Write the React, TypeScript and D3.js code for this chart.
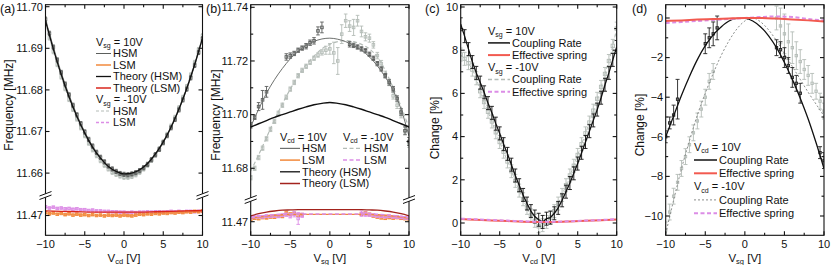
import React, { useEffect, useRef } from "react";
import * as d3 from "d3";

// ---------- shared x grids (V) ----------
const X_HALF = [-10, -9.5, -9, -8.5, -8, -7.5, -7, -6.5, -6, -5.5, -5, -4.5, -4, -3.5, -3, -2.5, -2, -1.5, -1, -0.5, 0, 0.5, 1, 1.5, 2, 2.5, 3, 3.5, 4, 4.5, 5, 5.5, 6, 6.5, 7, 7.5, 8, 8.5, 9, 9.5, 10];
const X_INT = [-10, -9, -8, -7, -6, -5, -4, -3, -2, -1, 0, 1, 2, 3, 4, 5, 6, 7, 8, 9, 10];
const X_EVEN = [-10, -8, -6, -4, -2, 0, 2, 4, 6, 8, 10];
const X_MAJOR = [-10, -5, 0, 5, 10];
const X_MINOR = [-7.5, -2.5, 2.5, 7.5];

// ---------- (a) frequency vs V_cd ----------
const aHsmPos = [11.6970, 11.6936, 11.6903, 11.6872, 11.6842, 11.6814, 11.6788, 11.6763, 11.6740, 11.6719, 11.6699, 11.6681, 11.6665, 11.6650, 11.6638, 11.6627, 11.6617, 11.6610, 11.6604, 11.6599, 11.6597, 11.6596, 11.6598, 11.6601, 11.6606, 11.6613, 11.6621, 11.6632, 11.6644, 11.6657, 11.6673, 11.6690, 11.6709, 11.6729, 11.6752, 11.6776, 11.6802, 11.6829, 11.6859, 11.6890, 11.6923];
const aHsmNeg = [11.6960, 11.6925, 11.6892, 11.6861, 11.6831, 11.6803, 11.6777, 11.6753, 11.6730, 11.6709, 11.6690, 11.6672, 11.6656, 11.6642, 11.6630, 11.6619, 11.6610, 11.6602, 11.6597, 11.6593, 11.6590, 11.6590, 11.6592, 11.6596, 11.6602, 11.6610, 11.6619, 11.6631, 11.6644, 11.6658, 11.6675, 11.6693, 11.6713, 11.6734, 11.6757, 11.6782, 11.6808, 11.6836, 11.6866, 11.6897, 11.6930];
const aTheoryHsm = [11.6966, 11.6898, 11.6837, 11.6783, 11.6736, 11.6696, 11.6662, 11.6636, 11.6616, 11.6604, 11.6598, 11.6600, 11.6608, 11.6623, 11.6646, 11.6675, 11.6711, 11.6754, 11.6804, 11.6861, 11.6925];
const aLsmPos = [11.4707, 11.4704, 11.4706, 11.4703, 11.4705, 11.4702, 11.4704, 11.4701, 11.4703, 11.4701, 11.4702, 11.4700, 11.4702, 11.4700, 11.4701, 11.4699, 11.4701, 11.4700, 11.4701, 11.4699, 11.4701, 11.4700, 11.4699, 11.4701, 11.4703, 11.4702, 11.4704, 11.4703, 11.4705, 11.4704, 11.4706, 11.4705, 11.4707, 11.4706, 11.4708, 11.4707, 11.4709, 11.4708, 11.4710, 11.4709, 11.4711];
const aLsmNeg = [11.4721, 11.4718, 11.4720, 11.4717, 11.4718, 11.4716, 11.4717, 11.4715, 11.4716, 11.4714, 11.4714, 11.4712, 11.4713, 11.4711, 11.4711, 11.4710, 11.4710, 11.4709, 11.4709, 11.4708, 11.4708, 11.4707, 11.4708, 11.4707, 11.4708, 11.4708, 11.4709, 11.4708, 11.4709, 11.4709, 11.4708, 11.4709, 11.4710, 11.4709, 11.4710, 11.4709, 11.4710, 11.4710, 11.4709, 11.4710, 11.4710];
const aTheoryLsm = [11.4711, 11.4710, 11.4709, 11.4708, 11.4708, 11.4708, 11.4708, 11.4709, 11.4710, 11.4711, 11.4712];

// ---------- (b) frequency vs V_sg ----------
const bHsmPosX = [-10, -9.5, -9, -8.5, -8, -5.5, -5, -4.5, -4, -3.5, -3, -2.5, -2, -1.5, -1, 2.5, 3, 3.5, 4, 4.5, 5, 5.5, 6, 6.5, 7, 7.5, 8, 8.5, 9, 9.5, 10];
const bHsmPos = [11.6960, 11.6990, 11.7030, 11.7055, 11.7085, 11.7215, 11.7220, 11.7228, 11.7240, 11.7248, 11.7255, 11.7268, 11.7275, 11.7312, 11.7325, 11.7262, 11.7258, 11.7252, 11.7245, 11.7238, 11.7225, 11.7210, 11.7190, 11.7170, 11.7145, 11.7120, 11.7095, 11.7060, 11.7010, 11.6940, 11.6900];
const bHsmPosErr = [0.0010, 0.0008, 0.0015, 0.0035, 0.0020, 0.0012, 0.0010, 0.0008, 0.0008, 0.0008, 0.0010, 0.0010, 0.0012, 0.0015, 0.0020, 0.0010, 0.0008, 0.0008, 0.0008, 0.0008, 0.0008, 0.0008, 0.0008, 0.0008, 0.0008, 0.0010, 0.0010, 0.0010, 0.0012, 0.0015, 0.0015];
const bHsmNeg = [11.6765, 11.6800, 11.6840, 11.6875, 11.6910, 11.6945, 11.6975, 11.7005, 11.7035, 11.7065, 11.7095, 11.7120, 11.7145, 11.7165, 11.7180, 11.7195, 11.7210, 11.7222, 11.7232, 11.7240, 11.7245, 11.7230, 11.7200, 11.7300, 11.7350, 11.7330, 11.7325, 11.7350, 11.7310, 11.7290, 11.7285, 11.7260, 11.7220, 11.7190, 11.7150, 11.7120, 11.7070, 11.7035, 11.7000, 11.6940, 11.6890];
const bHsmNegErr = [0.0008, 0.0008, 0.0008, 0.0008, 0.0008, 0.0008, 0.0008, 0.0008, 0.0008, 0.0008, 0.0008, 0.0008, 0.0008, 0.0008, 0.0008, 0.0008, 0.0008, 0.0008, 0.0010, 0.0015, 0.0020, 0.0040, 0.0050, 0.0035, 0.0025, 0.0020, 0.0030, 0.0020, 0.0020, 0.0015, 0.0015, 0.0012, 0.0012, 0.0012, 0.0012, 0.0012, 0.0012, 0.0012, 0.0012, 0.0012, 0.0012];
const bFitPos = [11.6955, 11.7020, 11.7080, 11.7130, 11.7172, 11.7208, 11.7236, 11.7258, 11.7273, 11.7282, 11.7285, 11.7281, 11.7272, 11.7258, 11.7240, 11.7215, 11.7182, 11.7140, 11.7090, 11.7020, 11.6920];
const bFitNeg = [11.6790, 11.6850, 11.6915, 11.6980, 11.7040, 11.7095, 11.7145, 11.7185, 11.7218, 11.7245, 11.7262, 11.7272, 11.7276, 11.7272, 11.7262, 11.7245, 11.7215, 11.7165, 11.7100, 11.7030, 11.6950];
const bTheoryHsm = [11.6954, 11.6966, 11.6978, 11.6990, 11.7000, 11.7010, 11.7020, 11.7029, 11.7037, 11.7042, 11.7045, 11.7042, 11.7037, 11.7029, 11.7020, 11.7010, 11.7000, 11.6990, 11.6978, 11.6966, 11.6954];
const bTheoryLsm = [11.4722, 11.4730, 11.4736, 11.4740, 11.4743, 11.4744, 11.4745, 11.4745, 11.4745, 11.4745, 11.4745, 11.4745, 11.4745, 11.4745, 11.4745, 11.4744, 11.4743, 11.4740, 11.4736, 11.4730, 11.4722];
const bFitLsmPos = [11.4712, 11.4717, 11.4721, 11.4724, 11.4726, 11.4727, 11.4727, 11.4727, 11.4727, 11.4727, 11.4727, 11.4727, 11.4727, 11.4727, 11.4727, 11.4727, 11.4726, 11.4724, 11.4721, 11.4717, 11.4712];
const bFitLsmNeg = [11.4714, 11.4719, 11.4723, 11.4726, 11.4728, 11.4729, 11.4729, 11.4729, 11.4729, 11.4729, 11.4729, 11.4729, 11.4729, 11.4729, 11.4729, 11.4729, 11.4728, 11.4726, 11.4723, 11.4719, 11.4714];
const bLsmX = [-10, -9.5, -9, -8.5, -8, -7.5, -7, -6.5, -6, -5.5, -5, -4.5, -4, -3.5, 4, 4.5, 5, 5.5, 6, 6.5, 7, 7.5, 8, 8.5, 9, 9.5, 10];
const bLsmPos = [11.4710, 11.4713, 11.4712, 11.4716, 11.4715, 11.4718, 11.4717, 11.4722, 11.4720, 11.4732, 11.4728, 11.4730, 11.4724, 11.4726, 11.4728, 11.4732, 11.4727, 11.4722, 11.4718, 11.4715, 11.4713, 11.4716, 11.4714, 11.4716, 11.4713, 11.4712, 11.4711];
const bLsmNeg = [11.4715, 11.4717, 11.4719, 11.4718, 11.4721, 11.4720, 11.4722, 11.4720, 11.4724, 11.4726, 11.4722, 11.4728, 11.4712, 11.4724, 11.4730, 11.4728, 11.4726, 11.4724, 11.4722, 11.4720, 11.4719, 11.4720, 11.4718, 11.4717, 11.4716, 11.4714, 11.4713];
const bLsmNegErr = [0.0004, 0.0004, 0.0004, 0.0004, 0.0004, 0.0004, 0.0004, 0.0005, 0.0005, 0.0006, 0.0008, 0.0010, 0.0022, 0.0008, 0.0010, 0.0008, 0.0006, 0.0005, 0.0005, 0.0004, 0.0004, 0.0004, 0.0004, 0.0004, 0.0004, 0.0004, 0.0004];

// ---------- (c) change vs V_cd ----------
const cCoupPos = [9.20, 8.65, 8.05, 7.45, 6.95, 6.50, 6.05, 5.55, 5.10, 4.60, 4.15, 3.65, 3.20, 2.70, 2.20, 1.75, 1.30, 0.90, 0.55, 0.30, 0.15, 0.05, 0.20, 0.25, 0.45, 0.70, 1.05, 1.45, 1.85, 2.30, 2.75, 3.25, 3.75, 4.25, 4.75, 5.25, 5.80, 6.40, 6.95, 7.55, 8.15];
const cCoupNeg = [7.8, 7.6, 7.4, 7.1, 6.7, 6.1, 5.6, 5.15, 4.7, 4.2, 3.75, 3.3, 2.85, 2.4, 1.95, 1.5, 1.1, 0.7, 0.35, 0.1, -0.15, -0.1, 0.05, 0.25, 0.55, 0.9, 1.3, 1.75, 2.2, 2.65, 3.15, 3.65, 4.15, 4.65, 5.2, 5.75, 6.3, 6.9, 7.5, 8.2, 9.0];
const cSpringPos = [0.18, 0.15, 0.12, 0.09, 0.06, 0.05, 0.05, 0.07, 0.10, 0.13, 0.16];
const cSpringNeg = [0.20, 0.17, 0.14, 0.11, 0.08, 0.06, 0.06, 0.08, 0.11, 0.14, 0.18];

// ---------- (d) change vs V_sg ----------
const dFitPos = [-6.0, -4.95, -3.9, -2.95, -2.1, -1.4, -0.85, -0.45, -0.15, -0.02, -0.02, -0.15, -0.45, -0.9, -1.5, -2.25, -3.1, -4.05, -5.1, -6.3, -7.6];
const dFitNeg = [-10.9, -9.2, -7.6, -6.2, -4.9, -3.8, -2.8, -1.9, -1.15, -0.55, -0.15, 0.0, -0.2, -0.6, -1.15, -1.8, -2.45, -3.1, -3.75, -4.35, -4.95];
const dCoupPosX = [-10, -9.5, -9, -8.5, -5, -4.5, -4, -3.5, 4, 4.5, 5, 5.5, 6, 6.5, 7, 9.5, 10];
const dCoupPos = [-6.0, -5.3, -4.9, -4.1, -1.3, -1.0, -0.8, -0.5, -1.5, -1.6, -2.0, -2.4, -3.0, -3.3, -3.8, -6.8, -7.2];
const dCoupPosErr = [0.3, 0.3, 0.5, 1.0, 0.5, 0.5, 0.6, 0.6, 0.4, 0.4, 0.5, 0.4, 0.5, 0.4, 0.5, 0.3, 0.4];
const dCoupNegX = [-10, -9.5, -9, -8.5, -8, -7.5, -7, -6.5, -6, -5.5, -5, -4.5, -4, 4, 4.5, 5, 5.5, 6, 6.5, 7, 7.5, 8, 8.5, 9, 9.5, 10];
const dCoupNeg = [-10.7, -9.8, -9.0, -8.3, -7.6, -7.0, -6.4, -5.8, -5.2, -4.6, -4.0, -3.2, -2.7, 0.0, -0.4, -0.8, -1.2, -1.5, -1.9, -2.2, -2.6, -2.9, -3.3, -3.7, -4.2, -4.7];
const dCoupNegErr = [0.4, 0.4, 0.4, 0.4, 0.4, 0.4, 0.4, 0.4, 0.4, 0.4, 0.4, 0.4, 0.4, 0.6, 0.9, 1.0, 0.9, 0.8, 0.7, 0.6, 0.5, 0.5, 0.5, 0.4, 0.4, 0.4];
const dSpringPos = [-0.15, -0.12, -0.08, -0.05, -0.02, 0.0, 0.0, -0.03, -0.07, -0.12, -0.18];
const dSpringNeg = [-0.25, -0.2, -0.15, -0.1, -0.05, 0.0, 0.05, 0.08, 0.05, -0.05, -0.12];

// ---------- colours ----------
const DARK = "#5b5e5c";
const LIGHT = "#b4bcb7";
const ORANGE = "#f28a3c";
const PINK = "#dc8de6";
const RED = "#d9261c";
const DKRED = "#a3231d";
const BLACK = "#111";
const SPRING = "#f25a50";
const FONT = "'Liberation Sans', Arial, sans-serif";

type Seg = { d: [number, number]; r: [number, number]; clip: [number, number]; major: number[]; minor: number[]; fmt: (v: number) => string };
type Ser = { xs: number[]; ys: number[]; seg?: number; err?: number | number[]; mark?: boolean; ms?: number; color: string; line?: boolean; dash?: string; lw?: number; smooth?: boolean; cap?: number; mfill?: string };
type Row = { head?: [string, string]; text?: string; color?: string; dash?: string; lw?: number };
type Legend = { x: number; y: number; step: number; len: number; rows: Row[] };
type Panel = { id: string; label: string; labelX: number; x0: number; x1: number; top: number; bottom: number; segs: Seg[]; breakY?: number; yTitle: string; yTitleX: number; yTitleY: number; xSub: string; series: Ser[]; legends: Legend[] };

const f2 = d3.format(".2f");
const f0 = d3.format("d");

const panels: Panel[] = [
  {
    id: "a", label: "(a)", labelX: 0, x0: 45.5, x1: 202.5, top: 4.7, bottom: 235.3,
    segs: [
      { d: [11.66, 11.70], r: [173.1, 6.7], clip: [4.7, 194.5], major: [11.66, 11.67, 11.68, 11.69, 11.70], minor: [], fmt: f2 },
      { d: [11.47, 11.48], r: [215.5, 173.9], clip: [196.5, 235.3], major: [11.47], minor: [], fmt: f2 },
    ],
    breakY: 195.5,
    yTitle: "Frequency [MHz]", yTitleX: 12.5, yTitleY: 105, xSub: "cd",
    series: [
      { xs: X_HALF, ys: aHsmNeg, err: 0.0005, mark: true, ms: 2.6, color: LIGHT, line: true, dash: "3,2", lw: 0.8 },
      { xs: X_HALF, ys: aHsmPos, err: 0.0005, mark: true, ms: 2.6, color: DARK, line: true, lw: 0.8 },
      { xs: X_INT, ys: aTheoryHsm, color: BLACK, line: true, lw: 1.3, smooth: true },
      { xs: X_HALF, ys: aLsmNeg, seg: 1, err: 0.0002, mark: true, ms: 2.6, color: PINK, line: true, dash: "3,2", lw: 0.8 },
      { xs: X_HALF, ys: aLsmPos, seg: 1, err: 0.0002, mark: true, ms: 2.6, color: ORANGE, line: true, lw: 0.8 },
      { xs: X_EVEN, ys: aTheoryLsm, seg: 1, color: RED, line: true, lw: 1.4, smooth: true },
    ],
    legends: [
      {
        x: 96, y: 42, step: 11.5, len: 15, rows: [
          { head: ["sg", " = 10V"] },
          { text: "HSM", color: DARK, lw: 1 },
          { text: "LSM", color: ORANGE, lw: 1.5 },
          { text: "Theory (HSM)", color: BLACK, lw: 1.3 },
          { text: "Theory (LSM)", color: RED, lw: 1.5 },
          { head: ["sg", " = -10V"] },
          { text: "HSM", color: LIGHT, lw: 1, dash: "3,2" },
          { text: "LSM", color: PINK, lw: 1.5, dash: "3,2" },
        ],
      },
    ],
  },
  {
    id: "b", label: "(b)", labelX: 206, x0: 250.7, x1: 409, top: 4.7, bottom: 235.3,
    segs: [
      { d: [11.68, 11.74], r: [168.3, 7.3], clip: [4.7, 198.5], major: [11.68, 11.70, 11.72, 11.74], minor: [11.69, 11.71, 11.73], fmt: f2 },
      { d: [11.47, 11.48], r: [221.7, 194.9], clip: [200.5, 235.3], major: [11.47], minor: [], fmt: f2 },
    ],
    breakY: 199.5,
    yTitle: "Frequency [MHz]", yTitleX: 219.5, yTitleY: 115, xSub: "sg",
    series: [
      { xs: X_HALF, ys: bHsmNeg, err: bHsmNegErr, mark: true, ms: 2.6, color: LIGHT, cap: 1.8 },
      { xs: X_INT, ys: bFitNeg, color: LIGHT, line: true, dash: "4,2.5", lw: 1.2, smooth: true },
      { xs: bHsmPosX, ys: bHsmPos, err: bHsmPosErr, mark: true, ms: 2.6, color: DARK, cap: 1.8 },
      { xs: X_INT, ys: bFitPos, color: "#6d706e", line: true, lw: 1, smooth: true },
      { xs: X_INT, ys: bTheoryHsm, color: BLACK, line: true, lw: 1.4, smooth: true },
      { xs: bLsmX, ys: bLsmPos, seg: 1, err: 0.0005, mark: true, ms: 2.6, color: ORANGE, cap: 1.8 },
      { xs: bLsmX, ys: bLsmNeg, seg: 1, err: bLsmNegErr, mark: true, ms: 2.6, color: PINK, cap: 1.8 },
      { xs: X_INT, ys: bFitLsmPos, seg: 1, color: ORANGE, line: true, lw: 1.3, smooth: true },
      { xs: X_INT, ys: bFitLsmNeg, seg: 1, color: PINK, line: true, lw: 1.5, dash: "4,2.5", smooth: true },
      { xs: X_INT, ys: bTheoryLsm, seg: 1, color: DKRED, line: true, lw: 1.3, smooth: true },
    ],
    legends: [
      {
        x: 280, y: 136.7, step: 11.7, len: 20, rows: [
          { head: ["cd", " = 10V"] },
          { text: "HSM", color: "#6d706e", lw: 1.2 },
          { text: "LSM", color: ORANGE, lw: 1.5 },
          { text: "Theory (HSM)", color: BLACK, lw: 1.3 },
          { text: "Theory (LSM)", color: DKRED, lw: 1.5 },
        ],
      },
      {
        x: 343, y: 136.7, step: 11.7, len: 19, rows: [
          { head: ["cd", " = -10V"] },
          { text: "HSM", color: LIGHT, lw: 1.2, dash: "4,2.5" },
          { text: "LSM", color: PINK, lw: 1.5, dash: "4,2.5" },
        ],
      },
    ],
  },
  {
    id: "c", label: "(c)", labelX: 425, x0: 460.7, x1: 616.7, top: 4.7, bottom: 235.3,
    segs: [
      { d: [0, 10], r: [223, 7], clip: [4.7, 235.3], major: [0, 2, 4, 6, 8, 10], minor: [1, 3, 5, 7, 9], fmt: f0 },
    ],
    yTitle: "Change [%]", yTitleX: 439, yTitleY: 128, xSub: "cd",
    series: [
      { xs: X_HALF, ys: cCoupNeg, err: 0.3, mark: true, ms: 3.4, color: LIGHT, line: true, dash: "4,2.5", lw: 1, cap: 2 },
      { xs: X_HALF, ys: cCoupPos, err: 0.3, color: BLACK, line: true, lw: 1.3, cap: 2 },
      { xs: X_EVEN, ys: cSpringPos, color: SPRING, line: true, lw: 2, smooth: true },
      { xs: X_EVEN, ys: cSpringNeg, color: PINK, line: true, lw: 2, dash: "4,2.5", smooth: true },
    ],
    legends: [
      {
        x: 488, y: 30.7, step: 12.2, len: 22, rows: [
          { head: ["sg", " = 10V"] },
          { text: "Coupling Rate", color: BLACK, lw: 1.5 },
          { text: "Effective spring", color: SPRING, lw: 2 },
          { head: ["sg", " = -10V"] },
          { text: "Coupling Rate", color: LIGHT, lw: 1.5, dash: "4,2.5" },
          { text: "Effective spring", color: PINK, lw: 2, dash: "4,2.5" },
        ],
      },
    ],
  },
  {
    id: "d", label: "(d)", labelX: 632, x0: 665.7, x1: 824, top: 4.7, bottom: 235.3,
    segs: [
      { d: [-10, 0], r: [216, 18], clip: [4.7, 235.3], major: [0, -2, -4, -6, -8, -10], minor: [-1, -3, -5, -7, -9], fmt: f0 },
    ],
    yTitle: "Change [%]", yTitleX: 644, yTitleY: 125, xSub: "sg",
    series: [
      { xs: dCoupNegX, ys: dCoupNeg, err: dCoupNegErr, mark: true, ms: 2.4, color: LIGHT, cap: 2 },
      { xs: X_INT, ys: dFitNeg, color: "#8a8d8b", line: true, lw: 1, dash: "2,2", smooth: true },
      { xs: dCoupPosX, ys: dCoupPos, err: dCoupPosErr, mark: true, ms: 2.4, color: "#222", cap: 2, mfill: "#777" },
      { xs: X_INT, ys: dFitPos, color: BLACK, line: true, lw: 1.3, smooth: true },
      { xs: X_EVEN, ys: dSpringNeg, color: PINK, line: true, lw: 2, dash: "4,2.5", smooth: true },
      { xs: X_EVEN, ys: dSpringPos, color: SPRING, line: true, lw: 2, smooth: true },
    ],
    legends: [
      {
        x: 694, y: 146.7, step: 13.3, len: 23, rows: [
          { head: ["cd", " = 10V"] },
          { text: "Coupling Rate", color: BLACK, lw: 1.5 },
          { text: "Effective spring", color: SPRING, lw: 2 },
          { head: ["cd", " = -10V"] },
          { text: "Coupling Rate", color: "#8a8d8b", lw: 1, dash: "2,2" },
          { text: "Effective spring", color: PINK, lw: 2, dash: "4,2.5" },
        ],
      },
    ],
  },
];

function drawPanel(root: d3.Selection<SVGSVGElement, unknown, null, undefined>, p: Panel) {
  const x = d3.scaleLinear().domain([-10, 10]).range([p.x0, p.x1]);
  const defs = root.select("defs");
  const g = root.append("g");
  const ys = p.segs.map((s) => d3.scaleLinear().domain(s.d).range(s.r));

  p.segs.forEach((s, i) => {
    defs.append("clipPath").attr("id", `clip-${p.id}-${i}`)
      .append("rect")
      .attr("x", p.x0).attr("y", s.clip[0])
      .attr("width", p.x1 - p.x0).attr("height", s.clip[1] - s.clip[0]);
  });

  // data series
  p.series.forEach((s) => {
    const si = s.seg ?? 0;
    const y = ys[si];
    const layer = g.append("g").attr("clip-path", `url(#clip-${p.id}-${si})`);
    const pts = s.xs.map((v, i) => ({
      x: v,
      y: s.ys[i],
      e: s.err === undefined ? 0 : typeof s.err === "number" ? s.err : s.err[i],
    }));

    if (s.line) {
      const line = d3.line<{ x: number; y: number }>()
        .x((d) => x(d.x))
        .y((d) => y(d.y))
        .curve(s.smooth ? d3.curveMonotoneX : d3.curveLinear);
      layer.append("path")
        .datum(pts)
        .attr("fill", "none")
        .attr("stroke", s.color)
        .attr("stroke-width", s.lw ?? 1)
        .attr("stroke-dasharray", s.dash ?? null)
        .attr("d", line);
    }

    if (s.err !== undefined) {
      const cap = s.cap ?? 1.5;
      const eb = layer.append("g").attr("stroke", s.color).attr("stroke-width", 0.9);
      pts.forEach((d) => {
        const px = x(d.x);
        const y1 = y(d.y - d.e);
        const y2 = y(d.y + d.e);
        eb.append("line").attr("x1", px).attr("x2", px).attr("y1", y1).attr("y2", y2);
        eb.append("line").attr("x1", px - cap).attr("x2", px + cap).attr("y1", y1).attr("y2", y1);
        eb.append("line").attr("x1", px - cap).attr("x2", px + cap).attr("y1", y2).attr("y2", y2);
      });
    }

    if (s.mark) {
      const m = s.ms ?? 3;
      layer.selectAll(null)
        .data(pts)
        .join("rect")
        .attr("x", (d) => x(d.x) - m / 2)
        .attr("y", (d) => y(d.y) - m / 2)
        .attr("width", m)
        .attr("height", m)
        .attr("fill", s.mfill ?? "none")
        .attr("stroke", s.color)
        .attr("stroke-width", 0.9);
    }
  });

  // frame
  const ax = g.append("g").attr("stroke", BLACK).attr("stroke-width", 1.1);
  ax.append("rect")
    .attr("x", p.x0).attr("y", p.top)
    .attr("width", p.x1 - p.x0).attr("height", p.bottom - p.top)
    .attr("fill", "none");

  // x ticks (inside, bottom and top)
  const xt = (v: number, len: number) => {
    ax.append("line").attr("x1", x(v)).attr("x2", x(v)).attr("y1", p.bottom).attr("y2", p.bottom - len);
    ax.append("line").attr("x1", x(v)).attr("x2", x(v)).attr("y1", p.top).attr("y2", p.top + len);
  };
  X_MAJOR.forEach((v) => xt(v, 4));
  X_MINOR.forEach((v) => xt(v, 2.5));

  X_MAJOR.forEach((v) => {
    g.append("text")
      .attr("x", x(v)).attr("y", 248)
      .attr("text-anchor", "middle")
      .attr("font-size", 11)
      .attr("fill", BLACK)
      .text(f0(v));
  });

  // y ticks per segment (inside, left and right)
  p.segs.forEach((s, i) => {
    const y = ys[i];
    const yt = (v: number, len: number, label: boolean) => {
      const yy = y(v);
      if (yy < s.clip[0] - 0.6 || yy > s.clip[1] + 0.6) return;
      ax.append("line").attr("x1", p.x0).attr("x2", p.x0 + len).attr("y1", yy).attr("y2", yy);
      ax.append("line").attr("x1", p.x1).attr("x2", p.x1 - len).attr("y1", yy).attr("y2", yy);
      if (label) {
        g.append("text")
          .attr("x", p.x0 - 2.5).attr("y", yy + 3.8)
          .attr("text-anchor", "end")
          .attr("font-size", 11)
          .attr("fill", BLACK)
          .text(s.fmt(v));
      }
    };
    s.major.forEach((v) => yt(v, 4, true));
    s.minor.forEach((v) => yt(v, 2.5, false));
  });

  // axis break marks
  if (p.breakY !== undefined) {
    const by = p.breakY;
    [p.x0, p.x1].forEach((bx) => {
      g.append("polygon")
        .attr("points", `${bx - 6},${by + 0.5} ${bx + 6},${by - 4} ${bx + 6},${by - 0.5} ${bx - 6},${by + 4}`)
        .attr("fill", "white");
      g.append("line").attr("x1", bx - 6).attr("y1", by + 0.5).attr("x2", bx + 6).attr("y2", by - 4)
        .attr("stroke", BLACK).attr("stroke-width", 1);
      g.append("line").attr("x1", bx - 6).attr("y1", by + 4).attr("x2", bx + 6).attr("y2", by - 0.5)
        .attr("stroke", BLACK).attr("stroke-width", 1);
    });
  }

  // titles
  g.append("text")
    .attr("transform", `translate(${p.yTitleX},${p.yTitleY}) rotate(-90)`)
    .attr("text-anchor", "middle")
    .attr("font-size", 12)
    .attr("fill", BLACK)
    .text(p.yTitle);

  const xtTitle = g.append("text")
    .attr("x", (p.x0 + p.x1) / 2).attr("y", 261.5)
    .attr("text-anchor", "middle")
    .attr("font-size", 11.5)
    .attr("fill", BLACK);
  xtTitle.append("tspan").text("V");
  xtTitle.append("tspan").attr("font-size", 7.5).attr("dy", 2.2).text(p.xSub);
  xtTitle.append("tspan").attr("dy", -2.2).text(" [V]");

  g.append("text")
    .attr("x", p.labelX).attr("y", 13)
    .attr("font-size", 12.5)
    .attr("fill", BLACK)
    .text(p.label);

  // legends
  p.legends.forEach((L) => {
    L.rows.forEach((r, i) => {
      const cy = L.y + i * L.step;
      if (r.head) {
        const t = g.append("text").attr("x", L.x).attr("y", cy + 3.8).attr("font-size", 11).attr("fill", BLACK);
        t.append("tspan").text("V");
        t.append("tspan").attr("font-size", 7).attr("dy", 2.5).text(r.head[0]);
        t.append("tspan").attr("dy", -2.5).text(r.head[1]);
      } else {
        g.append("line")
          .attr("x1", L.x).attr("x2", L.x + L.len)
          .attr("y1", cy).attr("y2", cy)
          .attr("stroke", r.color ?? BLACK)
          .attr("stroke-width", r.lw ?? 1)
          .attr("stroke-dasharray", r.dash ?? null);
        g.append("text")
          .attr("x", L.x + L.len + 2).attr("y", cy + 3.8)
          .attr("font-size", 11)
          .attr("fill", BLACK)
          .text(r.text ?? "");
      }
    });
  });
}

export default function App() {
  const svgRef = useRef<SVGSVGElement>(null);

  useEffect(() => {
    if (!svgRef.current) return;
    const svg = d3.select(svgRef.current);
    svg.selectAll("*").remove();
    svg.append("defs");
    svg.append("rect").attr("width", 831).attr("height", 265).attr("fill", "white");
    panels.forEach((p) => drawPanel(svg, p));
  }, []);

  return (
    <svg
      ref={svgRef}
      width={831}
      height={265}
      style={{ position: "absolute", left: 0, top: 0, display: "block", fontFamily: FONT }}
    />
  );
}
